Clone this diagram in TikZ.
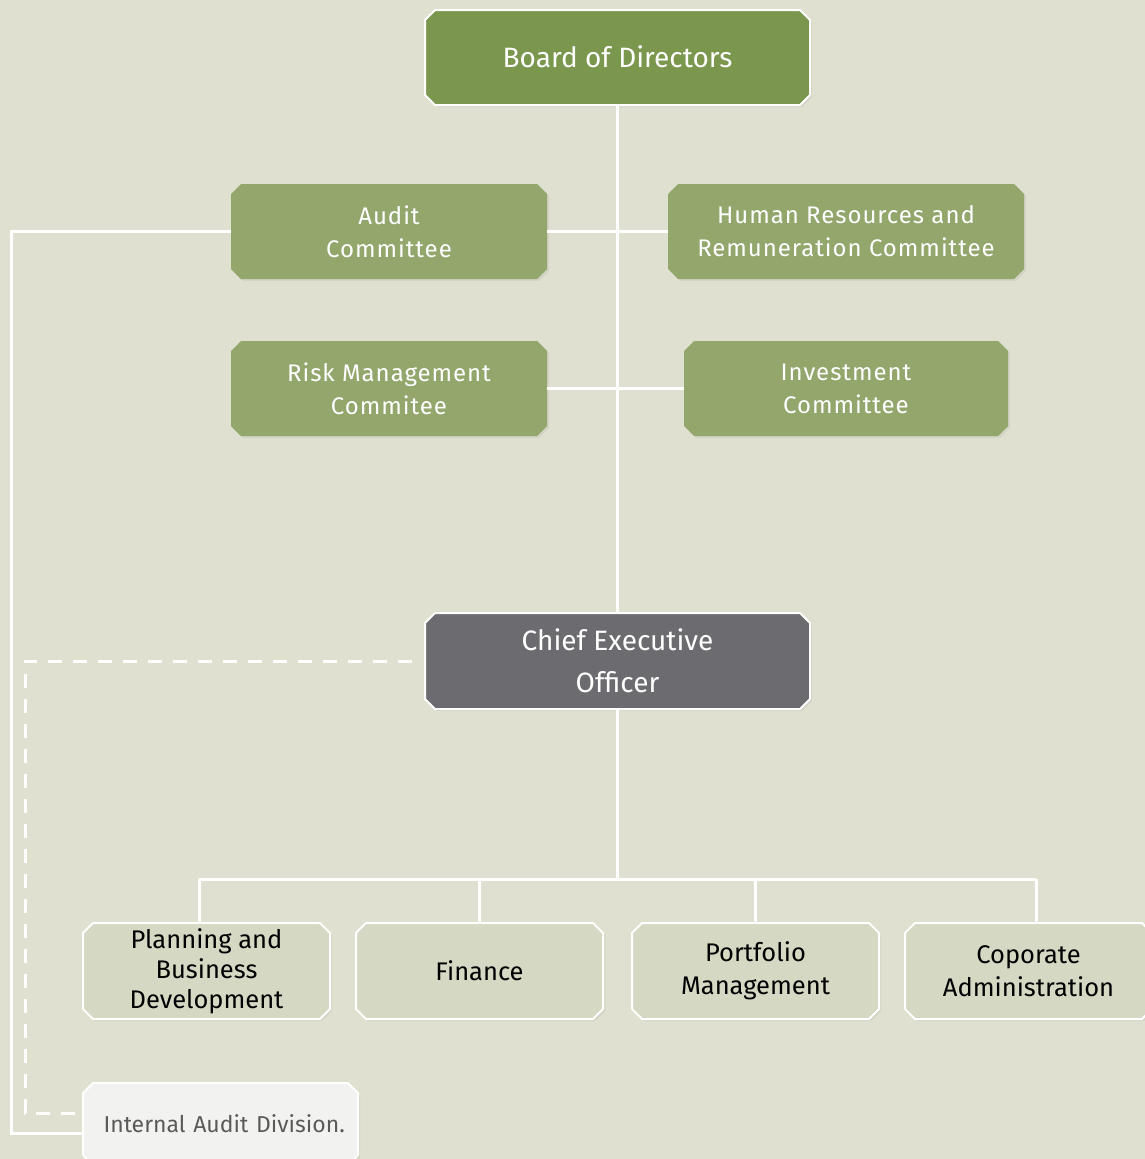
\documentclass[tikz,border=0pt]{standalone}
\usepackage{fontspec}
\setmainfont{Fira Sans}
\newfontfamily\trackedfont[LetterSpace=4]{Fira Sans}
\usetikzlibrary{shapes.misc,calc,shadows}
\definecolor{bgc}{HTML}{DFE0CF}
\definecolor{boardc}{HTML}{7A974D}
\definecolor{commc}{HTML}{93A66C}
\definecolor{ceoc}{HTML}{6C6B70}
\definecolor{deptc}{HTML}{D5D8C2}
\definecolor{iadc}{HTML}{F2F2F0}
\definecolor{iadtext}{HTML}{5A5A5A}
\tikzset{
  box/.style={chamfered rectangle, chamfered rectangle xsep=5pt, chamfered rectangle ysep=5pt,
    inner sep=0pt, align=center, minimum height=95pt,
    drop shadow={opacity=0.12, shadow xshift=2pt, shadow yshift=-2pt}},
  topbox/.style={box, fill=boardc, draw=white, line width=2pt, text=white,
    font=\fontsize{28}{34}\selectfont},
  commbox/.style={box, fill=commc, text=white, font=\trackedfont\fontsize{24}{33}\selectfont},
  ceobox/.style={box, fill=ceoc, draw=white, line width=2pt, text=white,
    font=\fontsize{28}{42}\selectfont},
  deptbox/.style={box, fill=deptc, draw=white, line width=2pt, text=black,
    minimum width=247pt, minimum height=96pt, font=\fontsize{25.5}{33}\selectfont},
  iadbox/.style={box, fill=iadc, draw=white, line width=2pt, text=iadtext,
    minimum width=275pt, minimum height=82pt, font=\fontsize{23}{26}\selectfont},
  link/.style={draw=white, line width=3pt},
  dlink/.style={draw=white, line width=3pt, dash pattern=on 14pt off 11pt}
}
\begin{document}
\begin{tikzpicture}[x=1pt,y=-1pt]
\fill[bgc] (0,0) rectangle (1145,1159);
\useasboundingbox (0,0) rectangle (1145,1159);
\clip (0,0) rectangle (1145,1159);

\coordinate (aL) at (11,231.5);
\coordinate (dL) at (25,661);
\coordinate (busL) at (199,879);
\coordinate (busR) at (1036,879);

\node[topbox, minimum width=385pt] (board) at (617.5,57.5) {\raisebox{2pt}{Board of Directors}};
\node[ceobox, minimum width=385pt, minimum height=96pt] (ceo) at (617.5,661) {Chief Executive\\Officer};

\path[link] (board.south) -- (ceo.north);
\path[link] (ceo.south) -- (ceo.south |- busL);
\path[link] (busL) -- (busR);

\node[commbox, minimum width=316pt] (audit) at (389,231.5) {Audit\\Committee};
\node[commbox, minimum width=356pt] (hr) at (846,231.5) {Human Resources and\\Remuneration Committee};
\node[commbox, minimum width=316pt] (risk) at (389,388.5) {Risk Management\\Commitee};
\node[commbox, minimum width=324pt] (invest) at (846,388.5) {Investment\\Committee};

\node[deptbox, font=\fontsize{25.5}{30}\selectfont] (plan) at (206.5,971) {Planning and\\Business\\Development};
\node[deptbox] (fin) at (479.5,971) {Finance};
\node[deptbox] (port) at (755.5,971) {Portfolio\\Management};
\node[deptbox] (corp) at (1028.5,971) {Coporate\\Administration};

\node[iadbox, text width=262pt, align=left] (iad) at (220.5,1124) {\hspace*{14pt}\mbox{Internal Audit Division.}};

\path[link] (audit.east) -- (hr.west);
\path[link] (risk.east) -- (invest.west);
\path[link] (audit.west) -- (aL) |- ($(iad.west)+(0,9)$);
\path[dlink] ($(ceo.west)+(-12,0)$) -- (dL) |- ($(iad.west)+(0,-11)$);

\path[link] (busL) -- (busL |- plan.north);
\path[link] (fin.north |- busL) -- (fin.north);
\path[link] (port.north |- busL) -- (port.north);
\path[link] (busR) -- (busR |- corp.north);
\end{tikzpicture}
\end{document}
